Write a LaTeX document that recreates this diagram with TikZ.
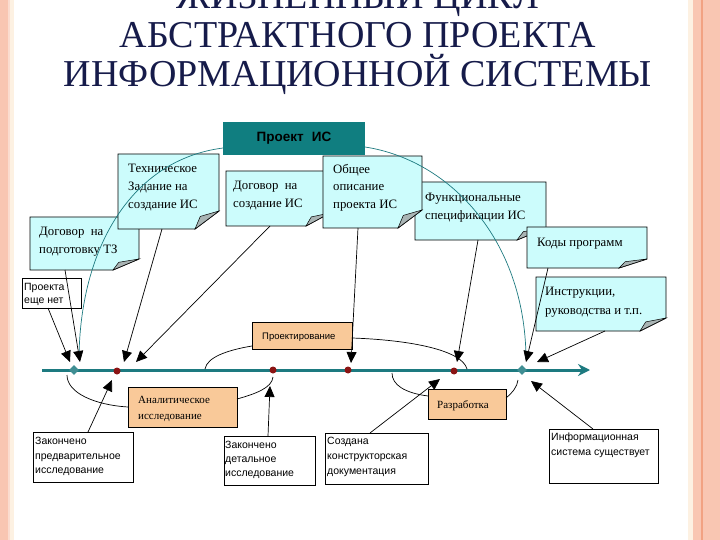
\documentclass[tikz,border=0pt]{standalone}
\usepackage{fontspec}
\setmainfont{Liberation Serif}
\setsansfont{Liberation Sans}
\usetikzlibrary{arrows.meta,shapes.geometric}
\definecolor{notecyan}{HTML}{CCFCFC}
\definecolor{orangefill}{HTML}{F9C999}
\definecolor{tealbox}{HTML}{107E80}
\definecolor{tealline}{HTML}{1D7A80}
\definecolor{dotred}{HTML}{8B1414}
\definecolor{navy}{HTML}{161B4A}
\definecolor{salmon}{HTML}{F9C6B2}
\definecolor{lightsalmon}{HTML}{FBDCCF}
\definecolor{cream}{HTML}{FDF1E2}
\definecolor{darksalmon}{HTML}{F2A282}
\definecolor{curlgray}{HTML}{A9B4B4}
\tikzset{
  box/.style={inner sep=0pt, outer sep=0pt, rectangle},
  titlestyle/.style={anchor=base, inner sep=0pt, text=navy, font=\fontsize{38}{38}\selectfont},
  notetext/.style={anchor=north west, inner sep=0pt, align=left, font=\fontsize{12.8}{18}\selectfont},
  smallserif/.style={anchor=north west, inner sep=0pt, align=left, font=\fontsize{11}{16}\selectfont},
  sanstext/.style={anchor=north west, inner sep=0pt, align=left, font=\sffamily\fontsize{10.5}{14.5}\selectfont},
  plainbox/.style={box, draw=black, fill=white, line width=0.9pt},
  orangebox/.style={box, draw=black, fill=orangefill, line width=0.9pt},
  arr/.style={black, line width=0.7pt, -{Triangle[length=11pt,width=10pt]}},
  bracket/.style={black, line width=0.7pt},
  tealcurve/.style={tealline, line width=0.7pt},
  reddot/.style={circle, fill=dotred, inner sep=0pt, minimum size=7pt},
  tealdia/.style={diamond, fill=tealline!85, inner sep=0pt, minimum size=10pt},
}
\newcommand{\notebox}[3]{%
  \filldraw[fill=notecyan, draw=black, line width=0.9pt]
    (#1.north west) -- (#1.north east) -- ([yshift=#3pt]#1.south east)
    -- ([xshift=-#2pt]#1.south east) -- (#1.south west) -- cycle;
  \filldraw[fill=curlgray, draw=black, line width=0.5pt]
    ([yshift=#3pt]#1.south east) -- ([shift={(-0.78*#2pt,0.7*#3pt)}]#1.south east)
    -- ([xshift=-#2pt]#1.south east) -- cycle;
}
\begin{document}
\begin{tikzpicture}[x=1pt,y=-1pt]
\useasboundingbox (0,0) rectangle (720,540);
\begin{scope}
\clip (0,0) rectangle (720,540);
\fill[white] (0,0) rectangle (720,540);
% page borders
\fill[salmon] (0,0) rectangle (8,540);
\fill[lightsalmon] (8,0) rectangle (10,540);
\fill[cream] (10,0) rectangle (14,540);
\fill[cream] (688,0) rectangle (693,540);
\fill[salmon] (693,0) rectangle (720,540);
\fill[darksalmon] (700.5,0) rectangle (703,540);
% title
\node[titlestyle] (t1) at (358,9) {ЖИЗНЕННЫЙ ЦИКЛ};
\node[titlestyle] (t2) at (358,48) {АБСТРАКТНОГО ПРОЕКТА};
\node[titlestyle] (t3) at (358,87) {ИНФОРМАЦИОННОЙ СИСТЕМЫ};
\end{scope}

% note boxes
\node[box, minimum width=109pt, minimum height=53pt] (dpt) at (84.5,243.5) {};
\notebox{dpt}{26}{11}
\node[notetext] (dptt) at (39,227) {Договор\ \ на\\подготовку ТЗ};

\node[box, minimum width=101pt, minimum height=75pt] (tz) at (168.5,191.5) {};
\notebox{tz}{24}{18}
\node[notetext] (tzt) at (128,164) {Техническое\\Задание на\\создание ИС};

\node[box, minimum width=104pt, minimum height=55pt] (dsis) at (278,198.5) {};
\notebox{dsis}{24}{13}
\node[notetext] (dsist) at (233,181) {Договор\ \ на\\создание ИС};

\node[box, minimum width=131pt, minimum height=58pt] (fs) at (480.5,211) {};
\notebox{fs}{29}{12}
\node[notetext] (fst) at (425,193) {Функциональные\\спецификации ИС};

\node[box, minimum width=99pt, minimum height=72pt] (obs) at (372.5,192) {};
\notebox{obs}{24}{18}
\node[notetext, font=\fontsize{12.8}{17.5}\selectfont] (obst) at (333,164) {Общее\\описание\\проекта ИС};

\node[box, minimum width=120pt, minimum height=41pt] (kp) at (587,247.5) {};
\notebox{kp}{28}{9}
\node[notetext] (kpt) at (537,238) {Коды программ};

\node[box, minimum width=130pt, minimum height=54pt] (ins) at (601,304) {};
\notebox{ins}{26}{13}
\node[notetext, font=\fontsize{12.8}{19}\selectfont] (inst) at (545,287) {Инструкции,\\руководства и т.п.};

% project box
\node[box, fill=tealbox, minimum width=142pt, minimum height=33pt,
      font=\sffamily\bfseries\fontsize{13.5}{14}\selectfont] (proekt) at (294,138.5) {Проект\hspace{8pt}ИС};

% teal curves
\draw[tealcurve] ([yshift=-9.5pt]proekt.west) .. controls (130,160) and (80,250) .. (79,358);
\draw[tealcurve] ([yshift=-8.5pt]proekt.east) .. controls (450,160) and (525,240) .. (526,358);

% white boxes
\node[plainbox, minimum width=59pt, minimum height=30pt] (pen) at (51.5,293) {};
\node[sanstext, font=\sffamily\fontsize{10.5}{13}\selectfont] (pent) at (24,283) {Проекта\\еще нет};

\node[plainbox, minimum width=100pt, minimum height=50pt] (zpi) at (83,457) {};
\node[sanstext] (zpit) at (35,437) {Закончено\\предварительное\\исследование};

\node[plainbox, minimum width=91pt, minimum height=49pt] (zdi) at (269.5,460.5) {};
\node[sanstext, font=\sffamily\fontsize{10.5}{14}\selectfont] (zdit) at (225,441) {Закончено\\детальное\\исследование};

\node[plainbox, minimum width=103pt, minimum height=51pt] (skd) at (376.5,458.5) {};
\node[sanstext, font=\sffamily\fontsize{10.5}{15}\selectfont] (skdt) at (327,437) {Создана\\конструкторская\\документация};

\node[plainbox, minimum width=109pt, minimum height=54pt] (ise) at (603.5,456) {};
\node[sanstext, font=\sffamily\fontsize{10.5}{15}\selectfont] (iset) at (551,433) {Информационная\\система существует};

% orange boxes
\node[orangebox, minimum width=100pt, minimum height=27pt] (proj) at (302,335.5) {};
\node[sanstext, font=\sffamily\fontsize{9.5}{12}\selectfont] (projt) at (262,333) {Проектирование};

\node[orangebox, minimum width=109pt, minimum height=40pt] (an) at (182.5,407) {};
\node[smallserif] (ant) at (138,396) {Аналитическое\\исследование};

\node[orangebox, minimum width=78pt, minimum height=30pt] (raz) at (467,404) {};
\node[smallserif] (razt) at (437,400) {Разработка};

% timeline
\coordinate (tl0) at (42,370);
\coordinate (tl1) at (590,370);
\draw[tealline, line width=3pt, -{Stealth[length=12pt,width=12pt,inset=4pt]}] (tl0) -- (tl1);

% brackets
\draw[bracket] (an.west) .. controls (95,405) and (67,393) .. (67,375);
\draw[bracket] ([yshift=8pt]an.east) .. controls (255,394) and (272,388) .. (273,377);
\draw[bracket] ([yshift=-10.5pt]proj.west) .. controls (228,350) and (207,357) .. (205,369);
\draw[bracket] ([yshift=-2.5pt]proj.east) .. controls (410,340) and (462,350) .. (467,369);
\draw[bracket] ([yshift=8pt]raz.west) .. controls (405,393) and (392,385) .. (392,373);
\draw[bracket] ([yshift=6pt]raz.east) .. controls (513,392) and (517,387) .. (518,380);

% arrow tips
\coordinate (a1) at (70,362);
\coordinate (a2) at (80,362);
\coordinate (a3) at (124,362);
\coordinate (a4) at (136,362);
\coordinate (a5) at (112,380);
\coordinate (a6) at (270,386);
\coordinate (a7) at (351,363);
\coordinate (a8) at (457,362);
\coordinate (a9) at (440,379);
\coordinate (a10) at (526,362);
\coordinate (a11) at (537,362);
\coordinate (a12) at (531,381);

% arrows
\draw[arr] ([xshift=-3.5pt]pen.south) -- (a1);
\draw[arr] ([xshift=35pt]dpt.south west) -- (a2);
\draw[arr] ([xshift=44pt]tz.south west) -- (a3);
\draw[arr] ([xshift=-8pt]dsis.south) -- (a4);
\draw[arr] ([xshift=55pt]zpi.north west) -- (a5);
\draw[arr] ([xshift=44pt]zdi.north west) -- (a6);
\draw[arr] ([xshift=35pt]obs.south west) -- (a7);
\draw[arr] ([xshift=63pt]fs.south west) -- (a8);
\draw[arr] ([xshift=45pt]skd.north west) -- (a9);
\draw[arr] ([xshift=21pt]kp.south west) -- (a10);
\draw[arr] ([xshift=69pt]ins.south west) -- (a11);
\draw[arr] ([xshift=44pt]ise.north west) -- (a12);

% dots
\node[tealdia] (d0) at (74,370) {};
\node[reddot] (d1) at (117,371) {};
\node[reddot] (d2) at (273,370) {};
\node[reddot] (d3) at (348,370) {};
\node[reddot] (d4) at (454,371) {};
\node[tealdia] (d5) at (522,370) {};
\end{tikzpicture}
\end{document}
